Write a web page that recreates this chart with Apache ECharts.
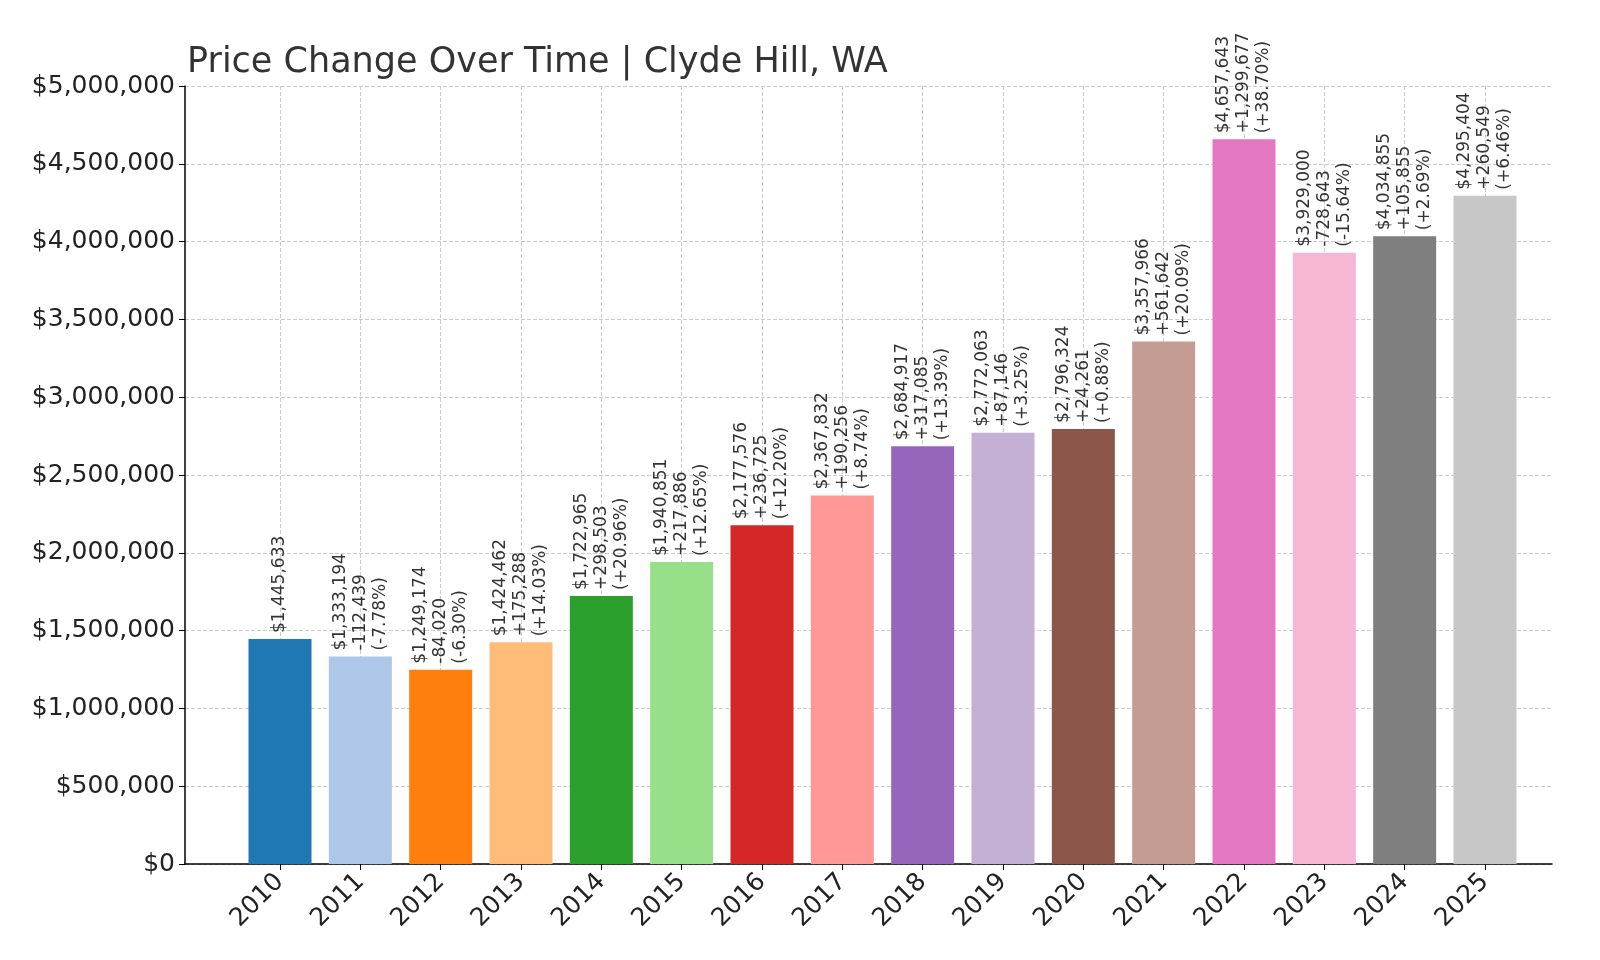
<!DOCTYPE html>
<html><head><meta charset="utf-8">
<script src="https://cdn.jsdelivr.net/npm/echarts@6/dist/echarts.min.js"></script>
<style>html,body{margin:0;padding:0;background:#fff}#c{width:1600px;height:960px}</style>
</head><body><div id="c"></div>
<script>
const years=['2010','2011','2012','2013','2014','2015','2016','2017','2018','2019','2020','2021','2022','2023','2024','2025'];
const values=[1445633,1333194,1249174,1424462,1722965,1940851,2177576,2367832,2684917,2772063,2796324,3357966,4657643,3929000,4034855,4295404];
const changes=[null,'-112,439','-84,020','+175,288','+298,503','+217,886','+236,725','+190,256','+317,085','+87,146','+24,261','+561,642','+1,299,677','-728,643','+105,855','+260,549'];
const pcts=[null,'(-7.78%)','(-6.30%)','(+14.03%)','(+20.96%)','(+12.65%)','(+12.20%)','(+8.74%)','(+13.39%)','(+3.25%)','(+0.88%)','(+20.09%)','(+38.70%)','(-15.64%)','(+2.69%)','(+6.46%)'];
const colors=['#1f77b4','#aec7e8','#ff7f0e','#ffbb78','#2ca02c','#98df8a','#d62728','#ff9896','#9467bd','#c5b0d5','#8c564b','#c49c94','#e377c2','#f7b6d2','#7f7f7f','#c7c7c7'];
const fmt=v=>'$'+v.toLocaleString('en-US');
const chart=echarts.init(document.getElementById('c'));
const font='DejaVu Sans';
chart.setOption({
  animation:false,
  textStyle:{fontFamily:font},
  title:{text:'Price Change Over Time | Clyde Hill, WA',left:182,top:40,textStyle:{fontSize:35,fontWeight:'normal',color:'#333',fontFamily:font}},
  grid:[{left:185,right:48,top:86,height:778},{left:280,right:115,top:86,height:778}],
  xAxis:[
    {gridIndex:0,type:'value',min:0,max:1,axisLine:{lineStyle:{color:'#000',width:1.5}},axisTick:{show:false},axisLabel:{show:false},splitLine:{show:false}},
    {gridIndex:1,type:'value',min:0,max:15,interval:1,axisLine:{show:false},
     axisTick:{show:true,length:6,lineStyle:{color:'#000'}},
     axisLabel:{rotate:45,fontSize:25,color:'#222',margin:14,formatter:v=>years[v]},
     splitLine:{show:true,lineStyle:{type:'dashed',color:'#ccc'}}}
  ],
  yAxis:[
    {gridIndex:0,type:'value',min:0,max:5000000,interval:500000,
     axisLine:{show:true,lineStyle:{color:'#000',width:1.5}},axisTick:{show:true,length:6,lineStyle:{color:'#000'}},
     axisLabel:{fontSize:25,color:'#222',margin:10,formatter:fmt},
     splitLine:{show:true,lineStyle:{type:'dashed',color:'#ccc'}}},
    {gridIndex:1,type:'value',min:0,max:5000000,show:false,splitLine:{show:false}}
  ],
  series:[{
    type:'bar',xAxisIndex:1,yAxisIndex:1,clip:false,barWidth:63,
    data:values.map((v,i)=>({value:[i,v],itemStyle:{color:colors[i]}})),
    label:{show:true,position:'top',rotate:90,align:'left',verticalAlign:'middle',distance:6,
      fontSize:17,color:'#333',lineHeight:20,
      formatter:p=>{const i=p.dataIndex;return changes[i]?fmt(values[i])+'\n'+changes[i]+'\n'+pcts[i]:fmt(values[i]);}}
  }]
});
</script></body></html>
